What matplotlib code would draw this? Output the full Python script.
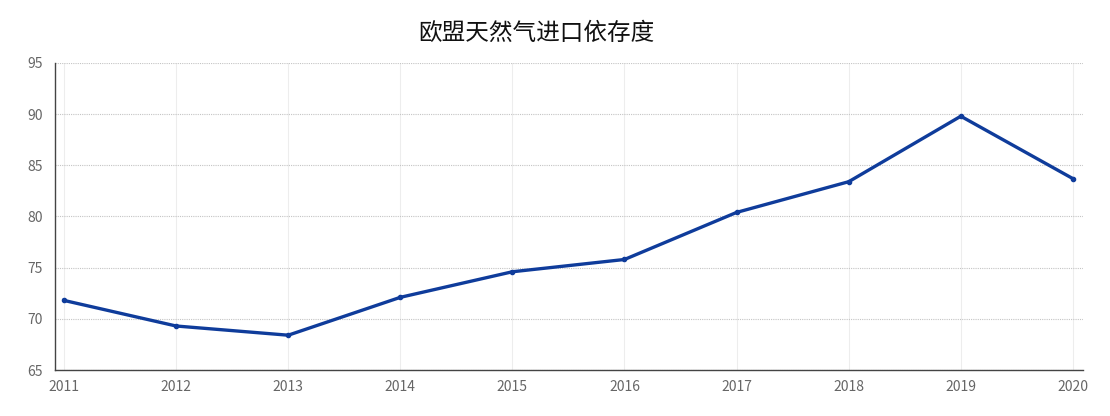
import matplotlib
matplotlib.use("Agg")
import matplotlib.pyplot as plt

plt.rcParams['font.family'] = ['Noto Sans CJK SC', 'DejaVu Sans']

years = [2011, 2012, 2013, 2014, 2015, 2016, 2017, 2018, 2019, 2020]
dependency = [71.8, 69.3, 68.4, 72.1, 74.6, 75.8, 80.4, 83.4, 89.8, 83.7]
yticks = [65, 70, 75, 80, 85, 90, 95]
title = "欧盟天然气进口依存度"

fig = plt.figure(figsize=(11.1, 4.16), dpi=100)
ax = fig.add_axes([55/1110, 46/416, (1083-55)/1110, (370-63)/416])

ax.plot(years, dependency, color='#0f3c9b', linewidth=2.4, marker='o',
        markersize=3, solid_joinstyle='round', zorder=3)

ax.set_ylim(65, 95)
ax.set_xlim(2011 - 0.08, 2020 + 0.09)
ax.set_yticks(yticks)
ax.set_xticks(years)
ax.set_xticklabels([str(y) for y in years])

ax.yaxis.grid(True, linestyle=(0, (1, 1)), color='#c4c4c4', linewidth=0.8)
ax.xaxis.grid(True, linestyle='-', color='#ededed', linewidth=0.8)
ax.set_axisbelow(True)

for s in ['top', 'right']:
    ax.spines[s].set_visible(False)
for s in ['left', 'bottom']:
    ax.spines[s].set_color('#444444')
    ax.spines[s].set_linewidth(1.0)

ax.tick_params(axis='both', length=0, labelsize=10, labelcolor='#666666')
ax.tick_params(axis='y', pad=9)
ax.tick_params(axis='x', pad=7)

fig.text(536/1110, 1 - 33/416, title, ha='center', va='center',
         fontsize=17, color='#111111')

fig.savefig('out.png', dpi=100, facecolor='white')
